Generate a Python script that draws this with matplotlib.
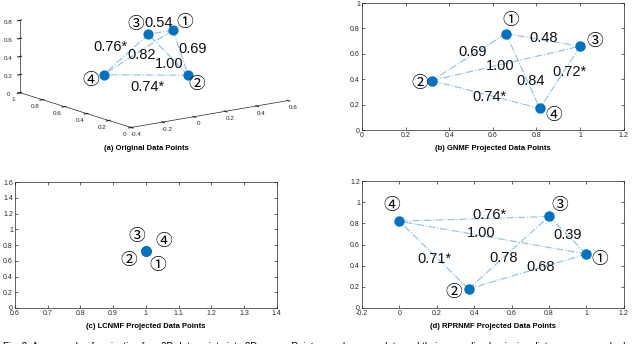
import numpy as np
import matplotlib
matplotlib.use("Agg")
import matplotlib.pyplot as plt

plt.rcParams['font.family'] = ['Liberation Sans', 'DejaVu Sans']

# circled point labels and pairwise distance labels
circ = ['\u2460', '\u2461', '\u2462', '\u2463']
pairs = [(0, 1), (0, 2), (0, 3), (1, 2), (1, 3), (2, 3)]

# (a) original 3D points (x, y, z), order 1..4
orig_x = [0.15, 0.105, 0.135, -0.01]
orig_y = [0.40, 0.20, 0.60, 0.80]
orig_z = [0.76, 0.35, 0.64, 0.16]
orig_dist = ['0.69', '0.54', '0.82', '1.00', '0.74*', '0.76*']
# label spots for panel (a), in figure pixels from top-left
orig_dist_px = [(193, 49), (159, 23), (142, 55), (169, 64), (147, 87), (110, 47)]
orig_lab_px = [(185, 23), (197, 85), (136, 24), (91, 80)]

# (b) GNMF
gnmf_x = [0.66, 0.32, 1.00, 0.815]
gnmf_y = [0.76, 0.39, 0.66, 0.17]
gnmf_dist = ['0.69', '0.48', '0.84', '1.00', '0.74*', '0.72*']
gnmf_dist_pos = [(0.507, 0.617), (0.834, 0.727), (0.773, 0.386), (0.632, 0.504), (0.586, 0.262), (0.953, 0.459)]
gnmf_lab_pos = [(0.683, 0.866), (0.266, 0.367), (1.067, 0.70), (0.877, 0.118)]

# (c) LCNMF: all four points collapse to one
lc_x = [1.0, 1.0, 1.0, 1.0]
lc_y = [0.73, 0.73, 0.73, 0.73]
lc_lab_pos = [(1.036, 0.537), (0.949, 0.60), (0.972, 0.910), (1.055, 0.851)]

# (d) RPRNMF
rp_x = [1.00, 0.37, 0.80, 0.00]
rp_y = [0.51, 0.18, 0.865, 0.82]
rp_dist = ['0.68', '0.39', '1.00', '0.78', '0.71*', '0.76*']
rp_dist_pos = [(0.755, 0.387), (0.902, 0.687), (0.436, 0.711), (0.555, 0.472), (0.186, 0.466), (0.484, 0.876)]
rp_lab_pos = [(1.072, 0.46), (0.288, 0.145), (0.855, 0.97), (-0.041, 0.97)]

titles = ['(a) Original Data Points', '(b) GNMF Projected Data Points',
          '(c) LCNMF Projected Data Points', '(d) RPRNMF Projected Data Points']

dot_c = '#0072BD'
line_c = '#8cbfe6'
circ_font = ['DejaVu Serif', 'Noto Sans CJK JP']
W, H = 640, 344


def style2d(ax):
    ax.tick_params(direction='in', top=True, right=True, labelsize=5, length=2,
                   width=0.5, colors='#262626', pad=1.5)
    for s in ax.spines.values():
        s.set_linewidth(0.5)
        s.set_color('#262626')


def draw2d(ax, xs, ys, dists, dpos, lpos, title):
    if dists:
        for (i, j) in pairs:
            ax.plot([xs[i], xs[j]], [ys[i], ys[j]], linestyle='-.', color=line_c, lw=0.8, zorder=1)
        for t, (px, py) in zip(dists, dpos):
            ax.text(px, py, t, fontsize=10.5, ha='center', va='center', color='#111111', zorder=3)
    ax.plot(xs, ys, 'o', color=dot_c, ms=6.5, zorder=2)
    for c, (px, py) in zip(circ, lpos):
        ax.text(px, py, c, fontsize=12, ha='center', va='center', family=circ_font, zorder=3)
    style2d(ax)
    ax.set_xlabel(title, fontsize=5.5, fontweight='bold', labelpad=4)


fig = plt.figure(figsize=(6.4, 3.44), dpi=100)

# (a) 3D, orthographic like MATLAB
cx, cy, side = 150, 64.5, 300
axa = fig.add_axes([(cx - side / 2) / W, 1 - (cy + side / 2) / H, side / W, side / H],
                   projection='3d', proj_type='ortho')
axa.set_facecolor('none')
for (i, j) in pairs:
    axa.plot([orig_x[i], orig_x[j]], [orig_y[i], orig_y[j]], [orig_z[i], orig_z[j]],
             linestyle='-.', color=line_c, lw=0.8)
axa.scatter(orig_x, orig_y, orig_z, color=dot_c, s=40, depthshade=False, alpha=1)
axa.set_xlim(-0.4, 0.6)
axa.set_ylim(0, 1)
axa.set_zlim(0, 0.8)
axa.set_xticks([-0.4, -0.2, 0, 0.2, 0.4, 0.6])
axa.set_xticklabels(['-0.4', '-0.2', '0', '0.2', '0.4', '0.6'])
axa.set_yticks([0, 0.2, 0.4, 0.6, 0.8, 1])
axa.set_yticklabels(['0', '0.2', '0.4', '0.6', '0.8', '1'])
axa.set_zticks([0, 0.2, 0.4, 0.6, 0.8])
axa.set_zticklabels(['0', '0.2', '0.4', '0.6', '0.8'])
axa.grid(False)
for a in (axa.xaxis, axa.yaxis, axa.zaxis):
    a.set_pane_color((1, 1, 1, 0))
    a.pane.set_edgecolor((1, 1, 1, 0))
    a.line.set_linewidth(0.5)
    a.line.set_color('#262626')
axa.tick_params(labelsize=4.5, pad=-3, colors='#262626')
axa.view_init(elev=13.4, azim=-126.5)
axa.set_box_aspect((196.5, 188, 75), zoom=0.906)
for t, (px, py) in zip(orig_dist, orig_dist_px):
    fig.text(px / W, 1 - py / H, t, fontsize=10.5, ha='center', va='center', color='#111111')
for c, (px, py) in zip(circ, orig_lab_px):
    fig.text(px / W, 1 - py / H, c, fontsize=12, ha='center', va='center', family=circ_font)
fig.text(146 / W, 1 - 149 / H, titles[0], fontsize=5.5, fontweight='bold', ha='center', va='center')

# (b)
axb = fig.add_axes([0.5656, 0.622, 0.409, 0.369])
draw2d(axb, gnmf_x, gnmf_y, gnmf_dist, gnmf_dist_pos, gnmf_lab_pos, titles[1])
axb.set_xlim(0, 1.2)
axb.set_ylim(0, 1)
axb.set_xticks(np.arange(0, 1.21, 0.2))
axb.set_xticklabels(['0', '0.2', '0.4', '0.6', '0.8', '1', '1.2'])
axb.set_yticks(np.arange(0, 1.01, 0.2))
axb.set_yticklabels(['0', '0.2', '0.4', '0.6', '0.8', '1'])

# (c)
axc = fig.add_axes([0.0234, 0.1047, 0.409, 0.366])
draw2d(axc, lc_x, lc_y, None, None, lc_lab_pos, titles[2])
axc.set_xlim(0.6, 1.4)
axc.set_ylim(0, 1.6)
axc.set_xticks(np.arange(0.6, 1.41, 0.1))
axc.set_xticklabels(['0.6', '0.7', '0.8', '0.9', '1', '1.1', '1.2', '1.3', '1.4'])
axc.set_yticks(np.arange(0, 1.61, 0.2))
axc.set_yticklabels(['0', '0.2', '0.4', '0.6', '0.8', '1', '1.2', '1.4', '1.6'])

# (d)
axd = fig.add_axes([0.5656, 0.1047, 0.409, 0.369])
draw2d(axd, rp_x, rp_y, rp_dist, rp_dist_pos, rp_lab_pos, titles[3])
axd.set_xlim(-0.2, 1.2)
axd.set_ylim(0, 1.2)
axd.set_xticks(np.arange(-0.2, 1.21, 0.2))
axd.set_xticklabels(['-0.2', '0', '0.2', '0.4', '0.6', '0.8', '1', '1.2'])
axd.set_yticks(np.arange(0, 1.21, 0.2))
axd.set_yticklabels(['0', '0.2', '0.4', '0.6', '0.8', '1', '1.2'])

fig.text(0.004, 1 - 341.5 / H, 'Fig. 2. An example of projecting four 3D data points into 2D space. Points are '
         'shown as dots and their normalized pairwise distances are marked on the dotted lines, with *',
         fontsize=7, ha='left', va='top')

fig.savefig('out.png', dpi=100)
